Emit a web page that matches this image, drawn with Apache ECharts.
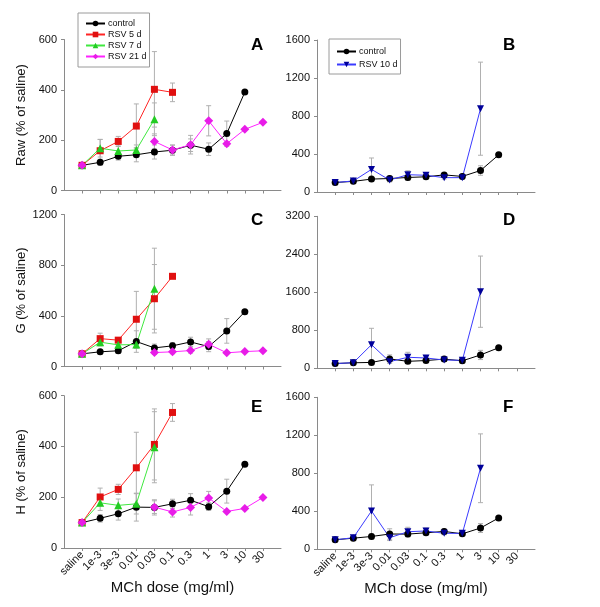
<!DOCTYPE html>
<html><head><meta charset="utf-8">
<script src="https://cdn.jsdelivr.net/npm/echarts@6/dist/echarts.min.js"></script>
<style>html,body{margin:0;padding:0;background:#fff}#c{width:600px;height:607px}</style>
</head><body><div id="c"></div>
<script>
const categories = ['saline','1e-3','3e-3','0.01','0.03','0.1','0.3','1','3','10','30'];

// Panel A / B : Raw
const ctrlRaw    = [100, 112, 136, 142, 153, 160, 180, 164, 226, 391, null];
const ctrlRawErr = [null, 12, 15, 28, 28, 20, 25, 25, 50, null, null];
const rsv5Raw    = [100, 158, 195, 256, 402, 390, null, null, null, null, null];
const rsv5RawErr = [null, 45, 20, 88, 150, 37, null, null, null, null, null];
const rsv7Raw    = [100, 168, 157, 161, 283, null, null, null, null, null, null];
const rsv7RawErr = [null, 35, 20, 20, 65, null, null, null, null, null, null];
const rsv21Raw   = [100, null, null, null, 195, 161, 182, 277, 186, 243, 271];
const rsv21RawErr= [null, null, null, null, 30, 20, 37, 60, null, null, null];
const rsv10Raw   = [100, 116, 238, 126, 182, 176, 151, 151, 877, null, null];
const rsv10RawErr= [null, 10, 120, 20, 42, 27, 15, 10, 490, null, null];

// Panel C / D : G
const ctrlG    = [100, 116, 124, 197, 147, 163, 194, 157, 281, 433, null];
const ctrlGErr = [null, 15, 20, 85, 30, 25, 37, 40, 97, null, null];
const rsv5G    = [100, 220, 208, 373, 535, 712, null, null, null, null, null];
const rsv5GErr = [null, 43, 20, 220, 270, null, null, null, null, null, null];
const rsv7G    = [100, 192, 171, 173, 614, null, null, null, null, null, null];
const rsv7GErr = [null, 30, 20, 30, 320, null, null, null, null, null, null];
const rsv21G   = [100, null, null, null, 110, 116, 126, 176, 108, 118, 124];
const rsv21GErr= [null, null, null, null, 15, 15, 20, 42, null, null, null];
const rsv10G   = [100, 118, 497, 139, 232, 217, 175, 168, 1613, null, null];
const rsv10GErr= [null, 15, 345, 30, 105, 50, 30, 20, 750, null, null];

// Panel E / F : H
const ctrlH    = [100, 117, 135, 161, 160, 174, 188, 163, 224, 330, null];
const ctrlHErr = [null, 15, 25, 55, 30, 18, 26, 15, 47, null, null];
const rsv5H    = [100, 201, 231, 316, 408, 534, null, null, null, null, null];
const rsv5HErr = [null, 35, 20, 140, 140, 35, null, null, null, null, null];
const rsv7H    = [100, 178, 168, 174, 397, null, null, null, null, null, null];
const rsv7HErr = [null, 30, 25, 40, 140, null, null, null, null, null, null];
const rsv21H   = [100, null, null, null, 161, 142, 160, 197, 144, 156, 199];
const rsv21HErr= [null, null, null, null, 25, 20, 30, 26, null, null, null];
const rsv10H   = [100, 122, 403, 122, 185, 193, 168, 168, 853, null, null];
const rsv10HErr= [null, 10, 275, 30, 47, 30, 15, 10, 362, null, null];

const yMax = [600, 1600, 1200, 3200, 600, 1600];
const yInt = [200, 400, 400, 800, 200, 400];
const yTitles = ['Raw (% of saline)', null, 'G (% of saline)', null, 'H (% of saline)', null];
const letters = ['A','B','C','D','E','F'];

const FONT = 'Liberation Sans, Arial, sans-serif';
const grids = [
  {left:64, width:217, top:39.5, height:151},
  {left:317, width:218, top:40, height:152},
  {left:64, width:217, top:214.5, height:152},
  {left:317, width:218, top:216.3, height:152},
  {left:64, width:217, top:395.7, height:152.3},
  {left:317, width:218, top:397.3, height:152}
];
const padCats = [''].concat(categories, ['']);
const inner = (i) => i > 0 && i < padCats.length - 1;

const styles = {
  'control':  {line:'#000000', fill:'#000000', symbol:'circle', size:7},
  'RSV 5 d':  {line:'#ff2424', fill:'#e01010', symbol:'rect', size:7},
  'RSV 7 d':  {line:'#3fe83f', fill:'#22cc22', symbol:'triangle', size:8},
  'RSV 21 d': {line:'#ff22ff', fill:'#e81ce8', symbol:'path://M0,-1L1,0L0,1L-1,0Z', size:9},
  'RSV 10 d': {line:'#3a3aff', fill:'#000099', symbol:'path://M-1,-1L1,-1L0,1Z', size:7}
};

function lineSeries(g, name, vals) {
  const s = styles[name];
  return {type:'line', name, xAxisIndex:g, yAxisIndex:g, z:3,
    data:[null].concat(vals, [null]), connectNulls:false,
    symbol:s.symbol, symbolSize:s.size, showSymbol:true,
    lineStyle:{color:s.line, width:1}, itemStyle:{color:s.fill, borderWidth:0},
    emphasis:{disabled:true}, animation:false};
}
function errSeries(g, vals, errs) {
  const data = [];
  vals.forEach((v,i)=>{ if (v!=null && errs[i]!=null) data.push([i+1, Math.max(0, v-errs[i]), v+errs[i]]); });
  return {type:'custom', xAxisIndex:g, yAxisIndex:g, z:1, silent:true, animation:false,
    data, encode:{x:0, y:[1,2]},
    renderItem:(params, api)=>{
      const x = api.value(0);
      const lo = api.coord([x, api.value(1)]);
      const hi = api.coord([x, api.value(2)]);
      const w = 2.5, st = {stroke:'#b0b0b0', lineWidth:1};
      return {type:'group', children:[
        {type:'line', shape:{x1:lo[0], y1:lo[1], x2:hi[0], y2:hi[1]}, style:st},
        {type:'line', shape:{x1:lo[0]-w, y1:lo[1], x2:lo[0]+w, y2:lo[1]}, style:st},
        {type:'line', shape:{x1:hi[0]-w, y1:hi[1], x2:hi[0]+w, y2:hi[1]}, style:st}
      ]};
    }};
}

const panels = [
  [['control', ctrlRaw, ctrlRawErr], ['RSV 5 d', rsv5Raw, rsv5RawErr], ['RSV 7 d', rsv7Raw, rsv7RawErr], ['RSV 21 d', rsv21Raw, rsv21RawErr]],
  [['control', ctrlRaw, ctrlRawErr], ['RSV 10 d', rsv10Raw, rsv10RawErr]],
  [['control', ctrlG, ctrlGErr], ['RSV 5 d', rsv5G, rsv5GErr], ['RSV 7 d', rsv7G, rsv7GErr], ['RSV 21 d', rsv21G, rsv21GErr]],
  [['control', ctrlG, ctrlGErr], ['RSV 10 d', rsv10G, rsv10GErr]],
  [['control', ctrlH, ctrlHErr], ['RSV 5 d', rsv5H, rsv5HErr], ['RSV 7 d', rsv7H, rsv7HErr], ['RSV 21 d', rsv21H, rsv21HErr]],
  [['control', ctrlH, ctrlHErr], ['RSV 10 d', rsv10H, rsv10HErr]]
];

const series = [];
panels.forEach((p, g) => {
  p.forEach(([n, v, e]) => series.push(errSeries(g, v, e)));
  p.forEach(([n, v, e]) => series.push(lineSeries(g, n, v)));
});

const axisCol = '#8a8a8a';
const xAxis = grids.map((gr, g) => ({
  type:'category', gridIndex:g, data:padCats, boundaryGap:false,
  axisLine:{lineStyle:{color:axisCol, width:1}},
  axisTick:{interval:inner, length:3, lineStyle:{color:axisCol}},
  axisLabel:{show:g>=4, interval:inner, rotate:45, margin:5, fontSize:11, fontFamily:FONT, color:'#111'},
  name: g>=4 ? 'MCh dose (mg/ml)' : '', nameLocation:'middle', nameGap:32,
  nameTextStyle:{fontSize:15, fontFamily:FONT, color:'#111'},
  splitLine:{show:false}
}));
const yAxis = grids.map((gr, g) => ({
  type:'value', gridIndex:g, min:0, max:yMax[g], interval:yInt[g],
  axisLine:{show:true, lineStyle:{color:axisCol, width:1}},
  axisTick:{show:true, length:3, lineStyle:{color:axisCol}},
  axisLabel:{fontSize:11, fontFamily:FONT, color:'#111', margin:7, formatter:(v)=>String(v)},
  splitLine:{show:false},
  name: yTitles[g] || '', nameLocation:'middle', nameGap:36,
  nameTextStyle:{fontSize:13, fontFamily:FONT, color:'#111'}
}));

const letterPos = [[251,37],[503,37],[251,212],[503,212],[251,399],[503,399]];
const graphic = letters.map((L,i)=>({type:'text', left:letterPos[i][0], top:letterPos[i][1],
  style:{text:L, font:'bold 17px ' + FONT, fill:'#000'}}));

const legendCommon = {orient:'vertical', backgroundColor:'#fff', borderColor:'#9a9a9a', borderWidth:1,
  itemWidth:19, itemHeight:7, itemGap:2, selectedMode:false,
  textStyle:{fontSize:9, fontFamily:FONT, color:'#111', lineHeight:8, padding:[0,0,0,-2]}};

const option = {
  animation:false,
  grid:grids,
  xAxis, yAxis, series, graphic,
  legend:[
    Object.assign({}, legendCommon, {data:['control','RSV 5 d','RSV 7 d','RSV 21 d'], left:78, top:13, padding:[6,3,6,7]}),
    Object.assign({}, legendCommon, {data:['control','RSV 10 d'], left:329, top:39, padding:[8,3,5,7], itemGap:4})
  ]
};
const chart = echarts.init(document.getElementById('c'), null, {renderer:'canvas'});
chart.setOption(option);
</script></body></html>
